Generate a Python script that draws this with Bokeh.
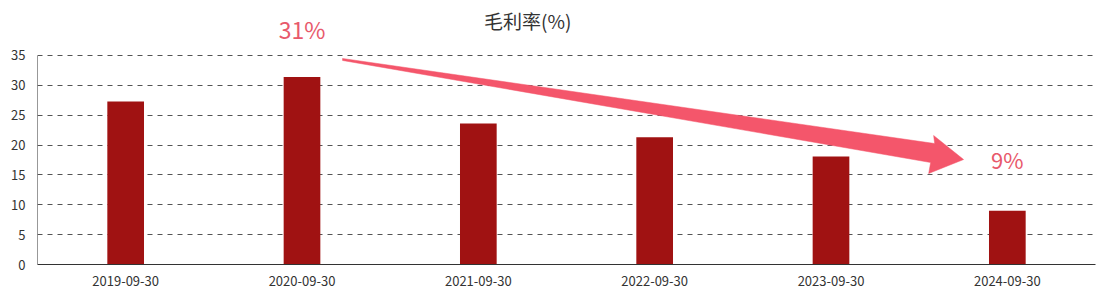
from bokeh.plotting import figure
from bokeh.models import FactorRange, Range1d, FixedTicker, ColumnDataSource
from bokeh.core.properties import value
from bokeh.embed import file_html
from bokeh.resources import INLINE

# ---- data ----
categories = ["2019-09-30", "2020-09-30", "2021-09-30", "2022-09-30", "2023-09-30", "2024-09-30"]
gross_margin = [27.3, 31.4, 23.6, 21.3, 18.1, 9.0]
y_ticks = [0, 5, 10, 15, 20, 25, 30, 35]
title_text = "毛利率(%)"

FONT = "Noto Sans CJK SC"
BAR_COLOR = "#a01212"
ACCENT = "#f4566b"
TEXT_ACCENT = "#e8596b"

p = figure(width=1103, height=290, x_range=FactorRange(*categories),
           y_range=Range1d(0, 44.21), output_backend="svg", toolbar_location=None,
           min_border_left=37, min_border_right=8, min_border_top=0, min_border_bottom=26)
p.outline_line_color = None
p.background_fill_color = "white"

src = ColumnDataSource(dict(cat=categories, v=gross_margin))
p.vbar(x="cat", top="v", width=0.208, source=src, color=BAR_COLOR, line_color=None)

# axes
p.yaxis.ticker = FixedTicker(ticks=y_ticks)
p.yaxis.axis_line_color = None
p.yaxis.major_tick_line_color = None
p.yaxis.minor_tick_line_color = None
p.yaxis.major_label_standoff = 6
p.yaxis.major_label_text_font = FONT
p.yaxis.major_label_text_font_size = "13px"
p.yaxis.major_label_text_color = "#333333"

p.xaxis.axis_line_color = "#333333"
p.xaxis.axis_line_width = 1
p.xaxis.major_tick_line_color = None
p.xaxis.minor_tick_line_color = None
p.xaxis.major_label_standoff = 5
p.xaxis.major_label_text_font = FONT
p.xaxis.major_label_text_font_size = "13px"
p.xaxis.major_label_text_color = "#333333"

p.xgrid.grid_line_color = None
p.ygrid.grid_line_color = "#555555"
p.ygrid.grid_line_dash = "5 5"
p.ygrid.grid_line_width = 1

# left axis line only up to the top tick
p.segment(x0=[0], y0=[0], x1=[0], y1=[y_ticks[-1]], line_color="#333333", line_width=1)

# title
p.text(x=[2.78], y=[40.85], text=[title_text], text_font=value(FONT), text_font_size="19px",
       text_color="#333333", text_align="center", text_baseline="middle")

# value labels for the peak and the latest value
first_i = gross_margin.index(max(gross_margin))
last_i = len(gross_margin) - 1
p.text(x=[categories[first_i]], y=[39.5], text=[f"{round(gross_margin[first_i])}%"],
       text_font=value(FONT), text_font_size="23px", text_color=TEXT_ACCENT,
       text_align="center", text_baseline="middle")
p.text(x=[categories[last_i]], y=[17.6], text=[f"{round(gross_margin[last_i])}%"],
       text_font=value(FONT), text_font_size="22px", text_color=TEXT_ACCENT,
       text_align="center", text_baseline="middle")

# decreasing-trend arrow (annotation)
arrow_x = [1.730, 5.088, 5.082, 5.252, 5.054, 5.065, 1.730]
arrow_y = [34.50, 20.26, 21.60, 17.58, 15.24, 17.08, 34.17]
p.patch(arrow_x, arrow_y, fill_color=ACCENT, line_color=ACCENT, line_width=0.5)

open("out.html", "w").write(file_html(p, INLINE))
